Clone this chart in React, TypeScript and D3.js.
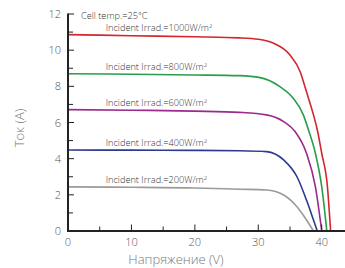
import React from "react";
import * as d3 from "d3";

const xTicksMajor = [0, 10, 20, 30, 40];
const xTicksMinor = [5, 15, 25, 35];
const yTicksMajor = [0, 2, 4, 6, 8, 10, 12];
const yTicksMinor = [1, 3, 5, 7, 9, 11];

const irradLabels = ["1000", "800", "600", "400", "200"];
const colors = ["#d3262e", "#2a9d4a", "#9a2a8c", "#2c3a8f", "#9b9b9b"];

const curve1000: [number, number][] = [[0, 10.86], [10, 10.8], [20, 10.74], [27, 10.68], [30, 10.6], [32.4, 10.38], [35, 9.73], [36.6, 8.81], [37.6, 7.7], [38.7, 6.42], [39.3, 5.6], [40, 4.3], [40.9, 2.45], [41.4, 0]];
const curve800: [number, number][] = [[0, 8.7], [10, 8.67], [20, 8.63], [27, 8.59], [30.3, 8.48], [33.4, 7.98], [35.5, 7.34], [37.1, 6.42], [37.9, 5.6], [39, 4.3], [40, 2.45], [40.8, 0]];
const curve600: [number, number][] = [[0, 6.71], [10, 6.68], [20, 6.63], [27, 6.56], [31.3, 6.42], [34, 6.05], [35.8, 5.5], [37.6, 4.3], [39, 2.45], [40, 0]];
const curve400: [number, number][] = [[0, 4.48], [10, 4.47], [20, 4.46], [27, 4.44], [31.3, 4.39], [34, 3.93], [36.1, 3.0], [37.6, 1.71], [38.7, 0.61], [39.3, 0]];
const curve200: [number, number][] = [[0, 2.44], [10, 2.42], [20, 2.38], [27, 2.31], [31.3, 2.27], [34, 1.99], [36.1, 1.34], [37.6, 0.61], [38.7, 0]];

const curves = [curve1000, curve800, curve600, curve400, curve200];

export default function App() {
  const x = d3.scaleLinear().domain([0, 43.67]).range([68, 345]);
  const y = d3.scaleLinear().domain([0, 12]).range([231, 14]);
  const line = d3
    .line<[number, number]>()
    .x((d) => x(d[0]))
    .y((d) => y(d[1]))
    .curve(d3.curveMonotoneX);
  const font = "'Open Sans', sans-serif";
  return (
    <div style={{ position: "absolute", left: 0, top: 0 }}>
      <svg width={345} height={268} style={{ display: "block" }}>
        <rect width={345} height={268} fill="#fff" />
        {curves.map((c, i) => (
          <path key={i} d={line(c) || ""} fill="none" stroke={colors[i]} strokeWidth={1.6} />
        ))}
        {curves.map((c, i) => (
          <text key={"l" + i} x={x(5.95)} y={y(c[0][1]) - 3.5} fontFamily={font} fontSize={9.2} fontWeight={300} fill="#333">
            Incident Irrad.={irradLabels[i]}W/m
            <tspan dy={-3} fontSize={6}>2</tspan>
          </text>
        ))}
        <text x={81} y={19} fontFamily={font} fontSize={9.2} fontWeight={300} fill="#333">Cell temp.=25°C</text>
        {/* axes */}
        <line x1={68} x2={68} y1={y(12) - 0.5} y2={232} stroke="#222" strokeWidth={2} />
        <line x1={67} x2={345} y1={231} y2={231} stroke="#222" strokeWidth={2} />
        {yTicksMajor.map((t) => (
          <g key={"ym" + t}>
            <line x1={68} x2={74} y1={y(t)} y2={y(t)} stroke="#222" strokeWidth={1} />
            <text x={61} y={y(t) + 4} textAnchor="end" fontFamily={font} fontSize={11} fontWeight={300} fill="#555">{t}</text>
          </g>
        ))}
        {yTicksMinor.map((t) => (
          <line key={"yn" + t} x1={68} x2={73} y1={y(t)} y2={y(t)} stroke="#222" strokeWidth={1} />
        ))}
        {xTicksMajor.map((t) => (
          <g key={"xm" + t}>
            <line x1={x(t)} x2={x(t)} y1={231} y2={224.5} stroke="#222" strokeWidth={1} />
            <text x={x(t)} y={246} textAnchor="middle" fontFamily={font} fontSize={11} fontWeight={300} fill="#555">{t}</text>
          </g>
        ))}
        {xTicksMinor.map((t) => (
          <line key={"xn" + t} x1={x(t)} x2={x(t)} y1={231} y2={226.5} stroke="#222" strokeWidth={1} />
        ))}
        <text x={176} y={264} textAnchor="middle" fontFamily={font} fontSize={13} fontWeight={300} fill="#777">Напряжение (V)</text>
        <text transform="translate(24,128) rotate(-90)" textAnchor="middle" fontFamily={font} fontSize={13} fontWeight={300} fill="#777">Ток (A)</text>
      </svg>
    </div>
  );
}
